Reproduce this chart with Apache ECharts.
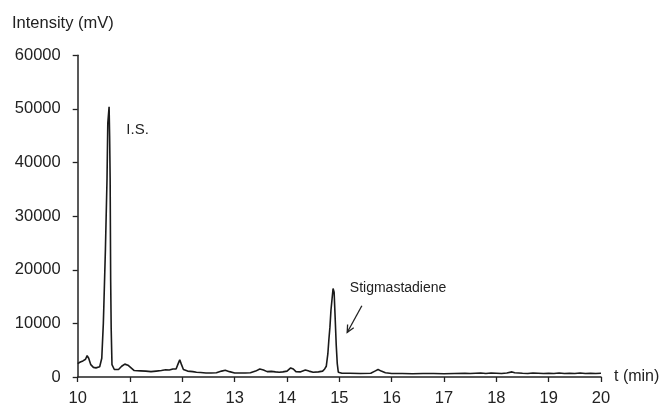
<!DOCTYPE html>
<html>
<head>
<meta charset="utf-8">
<script src="https://cdn.jsdelivr.net/npm/echarts@6/dist/echarts.min.js"></script>
<style>html,body{margin:0;padding:0;background:#fff;}#c{width:662px;height:407px;}</style>
</head>
<body>
<div id="c"></div>
<script>
// Retention time (min)
const times = [10.00,10.05,10.10,10.15,10.18,10.21,10.25,10.30,10.35,10.42,10.46,10.49,10.50,10.53,10.56,10.575,10.59,10.60,10.61,10.62,10.63,10.64,10.655,10.70,10.78,10.84,10.90,10.96,11.02,11.08,11.20,11.30,11.40,11.50,11.60,11.68,11.75,11.82,11.88,11.92,11.95,11.98,12.02,12.10,12.20,12.27,12.35,12.45,12.55,12.65,12.75,12.82,12.90,13.00,13.10,13.20,13.30,13.40,13.48,13.55,13.62,13.70,13.78,13.85,13.92,14.00,14.07,14.12,14.17,14.25,14.35,14.42,14.50,14.60,14.68,14.72,14.75,14.78,14.80,14.82,14.84,14.86,14.88,14.90,14.92,14.94,14.96,14.98,15.05,15.20,15.40,15.60,15.68,15.74,15.80,15.88,16.00,16.20,16.40,16.60,16.80,17.00,17.20,17.40,17.50,17.60,17.70,17.80,17.90,18.00,18.10,18.20,18.30,18.35,18.50,18.60,18.70,18.80,18.90,19.00,19.10,19.20,19.30,19.40,19.50,19.60,19.70,19.80,19.90,20.00];
// Intensity (mV)
const intensity = [2500,2800,3000,3300,4000,3500,2300,1800,1700,1900,3500,10000,13400,23900,36800,47300,47500,50400,45000,37000,18000,9000,2300,1400,1400,2000,2400,2200,1700,1200,1150,1100,1000,1100,1200,1350,1300,1500,1500,2500,3200,2400,1400,1100,1000,900,850,750,750,800,1100,1250,1000,750,750,750,800,1100,1500,1300,1000,1050,950,900,950,1100,1700,1500,1000,950,1300,1100,900,950,1100,1500,2000,4300,7000,9300,12500,14500,16500,15800,11000,6000,2500,900,700,700,650,700,1100,1400,1100,800,650,650,600,650,650,600,650,700,650,700,750,650,750,700,650,750,950,800,700,650,750,700,650,700,650,750,650,700,650,750,650,700,650,700];
const yTicks = [0,10000,20000,30000,40000,50000,60000];
const xTicks = [10,11,12,13,14,15,16,17,18,19,20];
const annotations = [
  {text:'I.S.', x:10.93, y:46100, size:15},
  {text:'Stigmastadiene', x:15.20, y:16600, size:14}
];
const arrowFrom = [15.43, 13300];
const arrowTo = [15.15, 8300];

const FONT = '"Liberation Sans", Arial, sans-serif';
const chart = echarts.init(document.getElementById('c'), null, {renderer:'canvas'});
const option = {
  animation:false,
  backgroundColor:'#fff',
  grid:{left:77.7, right:61, top:55.3, bottom:27.7, containLabel:false},
  xAxis:{
    type:'value', min:xTicks[0], max:xTicks[xTicks.length-1], interval:1,
    axisLine:{show:true, onZero:false, lineStyle:{color:'#222', width:1.5}},
    axisTick:{show:true, length:5, lineStyle:{color:'#222', width:1.3}},
    axisLabel:{color:'#222', fontFamily:FONT, fontSize:16.5, margin:13},
    splitLine:{show:false}
  },
  yAxis:{
    type:'value', min:yTicks[0], max:yTicks[yTicks.length-1], interval:10000,
    axisLine:{show:true, lineStyle:{color:'#222', width:1.5}},
    axisTick:{show:true, length:5, lineStyle:{color:'#222', width:1.3}},
    axisLabel:{color:'#222', fontFamily:FONT, fontSize:16.5, margin:17, formatter:v=>String(v)},
    splitLine:{show:false}
  },
  series:[{
    type:'line', data:times.map((t,i)=>[t,intensity[i]]),
    symbol:'none', smooth:false,
    lineStyle:{color:'#1a1a1a', width:1.6}
  }]
};
chart.setOption(option);

const g = [];
g.push({type:'text', left:12, top:15, style:{text:'Intensity (mV)', font:'16.5px '+FONT, fill:'#222'}});
const p0 = chart.convertToPixel({gridIndex:0}, [20, 0]);
g.push({type:'text', x:p0[0]+13, y:p0[1], style:{text:'t (min)', font:'16px '+FONT, fill:'#222', textVerticalAlign:'middle'}});
annotations.forEach(a=>{
  const p = chart.convertToPixel({gridIndex:0},[a.x,a.y]);
  g.push({type:'text', x:p[0], y:p[1], style:{text:a.text, font:a.size+'px '+FONT, fill:'#222', textVerticalAlign:'middle'}});
});
const s = chart.convertToPixel({gridIndex:0}, arrowFrom);
const e = chart.convertToPixel({gridIndex:0}, arrowTo);
const ang = Math.atan2(e[1]-s[1], e[0]-s[0]);
const hl = 8, ha = 0.45;
g.push({type:'line', shape:{x1:s[0],y1:s[1],x2:e[0],y2:e[1]}, style:{stroke:'#222', lineWidth:1.3}});
g.push({type:'polyline', shape:{points:[
  [e[0]-hl*Math.cos(ang-ha), e[1]-hl*Math.sin(ang-ha)], e,
  [e[0]-hl*Math.cos(ang+ha), e[1]-hl*Math.sin(ang+ha)]
]}, style:{stroke:'#222', lineWidth:1.3, fill:null}});
chart.setOption({graphic:g});
</script>
</body>
</html>
